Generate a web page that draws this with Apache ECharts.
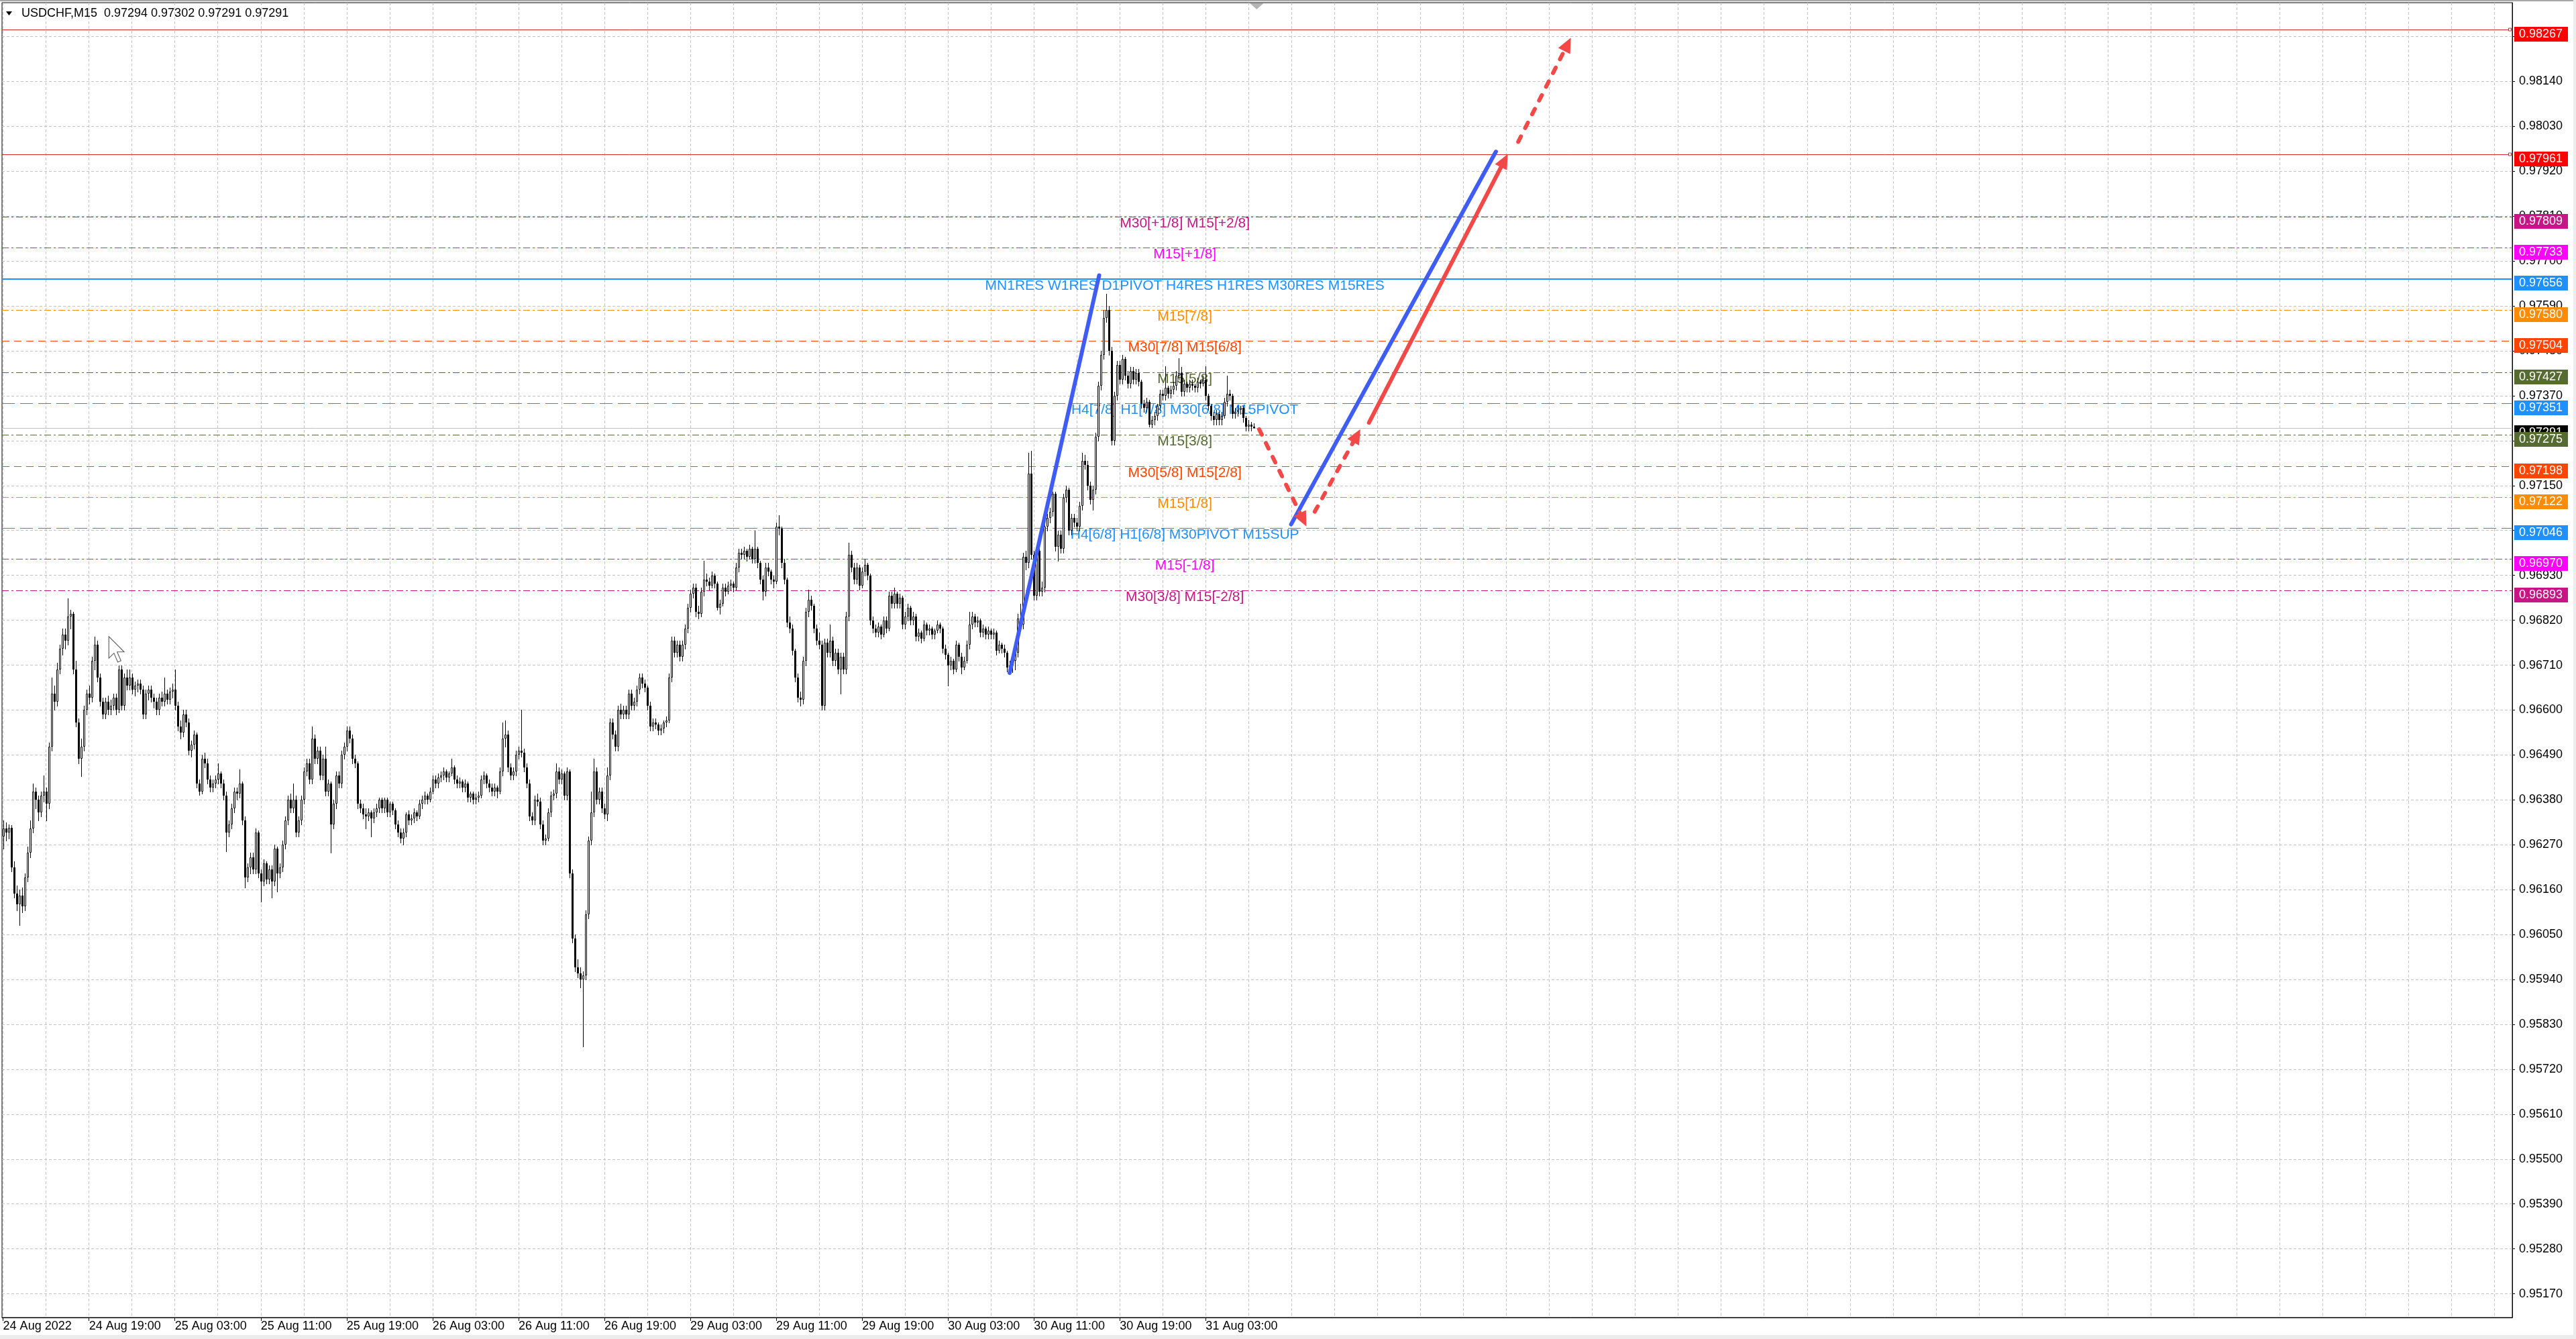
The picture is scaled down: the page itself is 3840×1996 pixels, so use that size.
<!DOCTYPE html>
<html><head><meta charset="utf-8">
<script src="https://cdn.jsdelivr.net/npm/echarts@6/dist/echarts.min.js"></script>
<style>html,body{margin:0;padding:0;background:#fff;overflow:hidden}#c{width:3840px;height:1996px}</style>
</head><body><div id="c"></div>
<script>
// ---------- DATA ----------
// Each row: [open, high, low, close] for one M15 bar of USDCHF
const bars_24Aug = [
[0.96290,0.96330,0.96260,0.96310],[0.96310,0.96325,0.96280,0.96300],[0.96300,0.96320,0.96285,0.96312],[0.96312,0.96318,0.96205,0.96215],
[0.96215,0.96230,0.96140,0.96150],[0.96150,0.96170,0.96110,0.96125],[0.96125,0.96160,0.96073,0.96145],[0.96145,0.96165,0.96105,0.96120],
[0.96120,0.96200,0.96110,0.96190],[0.96190,0.96265,0.96180,0.96250],[0.96250,0.96330,0.96240,0.96310],[0.96310,0.96420,0.96300,0.96400],
[0.96400,0.96410,0.96360,0.96380],[0.96380,0.96390,0.96330,0.96350],[0.96350,0.96400,0.96340,0.96390],[0.96390,0.96440,0.96375,0.96400],
[0.96400,0.96410,0.96330,0.96370],[0.96370,0.96520,0.96360,0.96510],[0.96510,0.96680,0.96500,0.96640],[0.96640,0.96660,0.96600,0.96620],
[0.96620,0.96715,0.96610,0.96700],[0.96700,0.96760,0.96690,0.96750],[0.96750,0.96800,0.96735,0.96785],[0.96785,0.96800,0.96750,0.96770],
[0.96770,0.96873,0.96760,0.96830],[0.96830,0.96845,0.96800,0.96835],[0.96835,0.96840,0.96690,0.96700],[0.96700,0.96720,0.96560,0.96570],
[0.96570,0.96580,0.96470,0.96480],[0.96480,0.96530,0.96438,0.96510],[0.96510,0.96610,0.96500,0.96600],[0.96600,0.96650,0.96590,0.96640],
[0.96640,0.96660,0.96615,0.96630],[0.96630,0.96730,0.96620,0.96720],[0.96720,0.96780,0.96700,0.96760],[0.96760,0.96770,0.96670,0.96680],
[0.96680,0.96690,0.96610,0.96620],[0.96620,0.96630,0.96580,0.96590],[0.96590,0.96630,0.96580,0.96620],[0.96620,0.96635,0.96590,0.96600],
[0.96600,0.96625,0.96590,0.96610],[0.96610,0.96640,0.96600,0.96630],[0.96630,0.96640,0.96590,0.96600],[0.96600,0.96710,0.96595,0.96700],
[0.96700,0.96710,0.96600,0.96610],[0.96610,0.96690,0.96600,0.96680],[0.96680,0.96700,0.96650,0.96660],[0.96660,0.96700,0.96650,0.96680],
[0.96680,0.96690,0.96640,0.96650],[0.96650,0.96670,0.96635,0.96660],[0.96660,0.96675,0.96645,0.96665],[0.96665,0.96675,0.96640,0.96650]
];
const bars_25Aug = [
[0.96650,0.96660,0.96580,0.96590],[0.96590,0.96650,0.96580,0.96640],[0.96640,0.96660,0.96625,0.96650],[0.96650,0.96660,0.96620,0.96630],
[0.96630,0.96640,0.96605,0.96620],[0.96620,0.96630,0.96590,0.96600],[0.96600,0.96640,0.96590,0.96630],[0.96630,0.96645,0.96610,0.96620],
[0.96620,0.96680,0.96610,0.96640],[0.96640,0.96650,0.96615,0.96625],[0.96625,0.96655,0.96615,0.96645],[0.96645,0.96665,0.96630,0.96650],
[0.96650,0.96700,0.96600,0.96610],[0.96610,0.96620,0.96550,0.96560],[0.96560,0.96575,0.96530,0.96545],[0.96545,0.96600,0.96535,0.96590],
[0.96590,0.96600,0.96560,0.96570],[0.96570,0.96580,0.96490,0.96500],[0.96500,0.96525,0.96485,0.96515],[0.96515,0.96550,0.96505,0.96540],
[0.96540,0.96545,0.96410,0.96420],[0.96420,0.96430,0.96392,0.96400],[0.96400,0.96490,0.96395,0.96480],[0.96480,0.96495,0.96460,0.96470],
[0.96470,0.96480,0.96420,0.96430],[0.96430,0.96440,0.96400,0.96410],[0.96410,0.96430,0.96400,0.96420],[0.96420,0.96440,0.96410,0.96430],
[0.96430,0.96470,0.96420,0.96445],[0.96445,0.96450,0.96410,0.96420],[0.96420,0.96430,0.96380,0.96390],[0.96390,0.96400,0.96254,0.96300],
[0.96300,0.96330,0.96290,0.96320],[0.96320,0.96370,0.96310,0.96360],[0.96360,0.96410,0.96350,0.96400],[0.96400,0.96410,0.96380,0.96395],
[0.96395,0.96455,0.96385,0.96420],[0.96420,0.96425,0.96320,0.96330],[0.96330,0.96340,0.96165,0.96190],[0.96190,0.96225,0.96180,0.96215],
[0.96215,0.96250,0.96200,0.96240],[0.96240,0.96250,0.96200,0.96210],[0.96210,0.96310,0.96200,0.96300],[0.96300,0.96305,0.96190,0.96200],
[0.96200,0.96210,0.96130,0.96180],[0.96180,0.96235,0.96170,0.96225],[0.96225,0.96230,0.96175,0.96185],[0.96185,0.96220,0.96175,0.96210],
[0.96210,0.96220,0.96140,0.96180],[0.96180,0.96270,0.96170,0.96260],[0.96260,0.96265,0.96155,0.96200],[0.96200,0.96225,0.96190,0.96215],
[0.96215,0.96280,0.96205,0.96270],[0.96270,0.96340,0.96260,0.96330],[0.96330,0.96390,0.96320,0.96380],[0.96380,0.96395,0.96350,0.96360],
[0.96360,0.96420,0.96350,0.96380],[0.96380,0.96390,0.96290,0.96300],[0.96300,0.96340,0.96290,0.96330],[0.96330,0.96390,0.96320,0.96380],
[0.96380,0.96460,0.96370,0.96450],[0.96450,0.96480,0.96440,0.96470],[0.96470,0.96480,0.96420,0.96430],[0.96430,0.96560,0.96420,0.96530],
[0.96530,0.96540,0.96470,0.96480],[0.96480,0.96510,0.96470,0.96500],[0.96500,0.96510,0.96430,0.96440],[0.96440,0.96490,0.96430,0.96480],
[0.96480,0.96510,0.96390,0.96400],[0.96400,0.96430,0.96390,0.96420],[0.96420,0.96425,0.96250,0.96320],[0.96320,0.96380,0.96310,0.96370],
[0.96370,0.96450,0.96360,0.96440],[0.96440,0.96450,0.96410,0.96420],[0.96420,0.96500,0.96410,0.96490],[0.96490,0.96520,0.96480,0.96510],
[0.96510,0.96560,0.96500,0.96550],[0.96550,0.96560,0.96520,0.96530],[0.96530,0.96540,0.96470,0.96480],[0.96480,0.96490,0.96460,0.96470],
[0.96470,0.96475,0.96360,0.96370],[0.96370,0.96380,0.96350,0.96360],[0.96360,0.96370,0.96335,0.96345],[0.96345,0.96360,0.96310,0.96340],
[0.96340,0.96360,0.96330,0.96350],[0.96350,0.96355,0.96290,0.96335],[0.96335,0.96360,0.96325,0.96350],[0.96350,0.96370,0.96340,0.96360],
[0.96360,0.96385,0.96350,0.96380],[0.96380,0.96385,0.96350,0.96360],[0.96360,0.96385,0.96350,0.96380],[0.96380,0.96385,0.96340,0.96350],
[0.96350,0.96375,0.96340,0.96370],[0.96370,0.96375,0.96345,0.96355],[0.96355,0.96360,0.96310,0.96320],[0.96320,0.96330,0.96290,0.96300]
];
const bars_26Aug = [
[0.96300,0.96310,0.96275,0.96285],[0.96285,0.96310,0.96270,0.96300],[0.96300,0.96350,0.96290,0.96345],[0.96345,0.96355,0.96320,0.96330],
[0.96330,0.96345,0.96320,0.96335],[0.96335,0.96360,0.96325,0.96350],[0.96350,0.96355,0.96330,0.96340],[0.96340,0.96380,0.96335,0.96370],
[0.96370,0.96390,0.96360,0.96380],[0.96380,0.96400,0.96370,0.96390],[0.96390,0.96395,0.96370,0.96380],[0.96380,0.96410,0.96375,0.96400],
[0.96400,0.96440,0.96395,0.96430],[0.96430,0.96440,0.96410,0.96420],[0.96420,0.96445,0.96410,0.96435],[0.96435,0.96450,0.96425,0.96440],
[0.96440,0.96460,0.96430,0.96450],[0.96450,0.96455,0.96425,0.96435],[0.96435,0.96450,0.96425,0.96445],[0.96445,0.96480,0.96440,0.96460],
[0.96460,0.96465,0.96420,0.96430],[0.96430,0.96440,0.96410,0.96420],[0.96420,0.96435,0.96410,0.96425],[0.96425,0.96430,0.96400,0.96410],
[0.96410,0.96430,0.96400,0.96420],[0.96420,0.96425,0.96375,0.96385],[0.96385,0.96400,0.96375,0.96395],[0.96395,0.96400,0.96370,0.96380],
[0.96380,0.96395,0.96370,0.96385],[0.96385,0.96400,0.96375,0.96390],[0.96390,0.96440,0.96385,0.96430],[0.96430,0.96450,0.96420,0.96440],
[0.96440,0.96445,0.96410,0.96420],[0.96420,0.96430,0.96400,0.96410],[0.96410,0.96420,0.96390,0.96400],[0.96400,0.96420,0.96390,0.96410],
[0.96410,0.96415,0.96385,0.96400],[0.96400,0.96460,0.96395,0.96450],[0.96450,0.96570,0.96440,0.96530],[0.96530,0.96575,0.96510,0.96540],
[0.96540,0.96550,0.96450,0.96460],[0.96460,0.96470,0.96430,0.96440],[0.96440,0.96460,0.96430,0.96450],[0.96450,0.96500,0.96440,0.96490],
[0.96490,0.96510,0.96480,0.96500],[0.96500,0.96600,0.96485,0.96495],[0.96495,0.96505,0.96450,0.96460],[0.96460,0.96470,0.96410,0.96420],
[0.96420,0.96430,0.96330,0.96340],[0.96340,0.96350,0.96320,0.96330],[0.96330,0.96390,0.96320,0.96380],[0.96380,0.96395,0.96365,0.96375],
[0.96375,0.96385,0.96310,0.96320],[0.96320,0.96330,0.96270,0.96280],[0.96280,0.96295,0.96270,0.96285],[0.96285,0.96360,0.96280,0.96350],
[0.96350,0.96400,0.96340,0.96390],[0.96390,0.96405,0.96380,0.96395],[0.96395,0.96470,0.96385,0.96450],[0.96450,0.96460,0.96420,0.96430],
[0.96430,0.96455,0.96420,0.96445],[0.96445,0.96450,0.96380,0.96390],[0.96390,0.96460,0.96380,0.96450],[0.96450,0.96455,0.96190,0.96200],
[0.96200,0.96210,0.96030,0.96040],[0.96040,0.96050,0.95960,0.95970],[0.95970,0.95990,0.95945,0.95955],[0.95955,0.95970,0.95920,0.95940],
[0.95940,0.95960,0.95775,0.95950],[0.95950,0.96110,0.95940,0.96100],[0.96100,0.96290,0.96090,0.96280],[0.96280,0.96400,0.96270,0.96350],
[0.96350,0.96480,0.96340,0.96450],[0.96450,0.96460,0.96370,0.96380],[0.96380,0.96410,0.96370,0.96400],[0.96400,0.96410,0.96350,0.96360],
[0.96360,0.96370,0.96335,0.96345],[0.96345,0.96460,0.96330,0.96440],[0.96440,0.96580,0.96430,0.96570],[0.96570,0.96580,0.96530,0.96540],
[0.96540,0.96550,0.96500,0.96510],[0.96510,0.96610,0.96500,0.96600],[0.96600,0.96615,0.96580,0.96590],[0.96590,0.96610,0.96580,0.96600],
[0.96600,0.96610,0.96580,0.96590],[0.96590,0.96650,0.96580,0.96640],[0.96640,0.96650,0.96600,0.96610],[0.96610,0.96630,0.96600,0.96620],
[0.96620,0.96660,0.96610,0.96650],[0.96650,0.96690,0.96640,0.96680],[0.96680,0.96690,0.96655,0.96665],[0.96665,0.96675,0.96645,0.96655],
[0.96655,0.96660,0.96600,0.96610],[0.96610,0.96620,0.96550,0.96560],[0.96560,0.96580,0.96550,0.96570],[0.96570,0.96580,0.96555,0.96565]
];
const bars_29Aug = [
[0.96565,0.96570,0.96540,0.96550],[0.96550,0.96565,0.96540,0.96555],[0.96555,0.96575,0.96545,0.96570],[0.96570,0.96585,0.96560,0.96575],
[0.96575,0.96690,0.96570,0.96680],[0.96680,0.96780,0.96670,0.96770],[0.96770,0.96780,0.96730,0.96740],[0.96740,0.96770,0.96730,0.96760],
[0.96760,0.96770,0.96720,0.96730],[0.96730,0.96770,0.96720,0.96760],[0.96760,0.96810,0.96750,0.96800],[0.96800,0.96860,0.96790,0.96850],
[0.96850,0.96895,0.96840,0.96885],[0.96885,0.96910,0.96875,0.96900],[0.96900,0.96910,0.96830,0.96840],[0.96840,0.96855,0.96825,0.96835],
[0.96835,0.96900,0.96830,0.96890],[0.96890,0.96965,0.96880,0.96920],[0.96920,0.96935,0.96905,0.96915],[0.96915,0.96925,0.96895,0.96905],
[0.96905,0.96940,0.96900,0.96930],[0.96930,0.96935,0.96900,0.96910],[0.96910,0.96915,0.96845,0.96850],[0.96850,0.96870,0.96835,0.96860],
[0.96860,0.96910,0.96855,0.96900],[0.96900,0.96910,0.96880,0.96890],[0.96890,0.96915,0.96885,0.96905],[0.96905,0.96920,0.96895,0.96910],
[0.96910,0.96915,0.96890,0.96900],[0.96900,0.96960,0.96895,0.96950],[0.96950,0.96995,0.96940,0.96985],[0.96985,0.96995,0.96970,0.96980],
[0.96980,0.97000,0.96970,0.96990],[0.96990,0.96995,0.96965,0.96975],[0.96975,0.97005,0.96970,0.96995],[0.96995,0.97000,0.96960,0.96970],
[0.96970,0.97040,0.96960,0.96995],[0.96995,0.97000,0.96950,0.96960],[0.96960,0.96965,0.96910,0.96920],[0.96920,0.96930,0.96870,0.96890],
[0.96890,0.96960,0.96880,0.96950],[0.96950,0.96960,0.96930,0.96940],[0.96940,0.96945,0.96910,0.96920],[0.96920,0.96930,0.96900,0.96915],
[0.96915,0.97060,0.96910,0.97050],[0.97050,0.97078,0.97030,0.97045],[0.97045,0.97050,0.96950,0.96960],[0.96960,0.96970,0.96910,0.96920],
[0.96920,0.96925,0.96805,0.96815],[0.96815,0.96830,0.96790,0.96800],[0.96800,0.96810,0.96735,0.96745],[0.96745,0.96750,0.96670,0.96680],
[0.96680,0.96690,0.96620,0.96630],[0.96630,0.96645,0.96610,0.96625],[0.96625,0.96730,0.96615,0.96720],[0.96720,0.96850,0.96710,0.96840],
[0.96840,0.96895,0.96830,0.96870],[0.96870,0.96880,0.96845,0.96855],[0.96855,0.96860,0.96790,0.96800],[0.96800,0.96810,0.96760,0.96770],
[0.96770,0.96790,0.96750,0.96760],[0.96760,0.96770,0.96600,0.96610],[0.96610,0.96775,0.96600,0.96765],[0.96765,0.96775,0.96730,0.96740],
[0.96740,0.96810,0.96730,0.96770],[0.96770,0.96780,0.96710,0.96720],[0.96720,0.96750,0.96710,0.96740],[0.96740,0.96750,0.96690,0.96700],
[0.96700,0.96740,0.96640,0.96730],[0.96730,0.96740,0.96690,0.96700],[0.96700,0.96840,0.96690,0.96830],[0.96830,0.97010,0.96820,0.96980],
[0.96980,0.96990,0.96940,0.96950],[0.96950,0.96960,0.96910,0.96920],[0.96920,0.96960,0.96910,0.96950],[0.96950,0.96955,0.96895,0.96905],
[0.96905,0.96950,0.96900,0.96940],[0.96940,0.96970,0.96930,0.96955],[0.96955,0.96960,0.96920,0.96930],[0.96930,0.96935,0.96810,0.96820],
[0.96820,0.96830,0.96790,0.96800],[0.96800,0.96810,0.96780,0.96790],[0.96790,0.96815,0.96780,0.96805],[0.96805,0.96810,0.96775,0.96785],
[0.96785,0.96830,0.96780,0.96820],[0.96820,0.96830,0.96790,0.96800],[0.96800,0.96890,0.96795,0.96880],[0.96880,0.96890,0.96850,0.96860],
[0.96860,0.96900,0.96850,0.96885],[0.96885,0.96890,0.96850,0.96860],[0.96860,0.96885,0.96850,0.96875],[0.96875,0.96880,0.96800,0.96810],
[0.96810,0.96840,0.96800,0.96830],[0.96830,0.96860,0.96820,0.96850],[0.96850,0.96855,0.96810,0.96820],[0.96820,0.96840,0.96810,0.96830]
];
const bars_30Aug = [
[0.96830,0.96835,0.96770,0.96780],[0.96780,0.96800,0.96770,0.96790],[0.96790,0.96795,0.96765,0.96775],[0.96775,0.96820,0.96770,0.96810],
[0.96810,0.96815,0.96785,0.96795],[0.96795,0.96810,0.96785,0.96800],[0.96800,0.96805,0.96775,0.96785],[0.96785,0.96800,0.96775,0.96795],
[0.96795,0.96820,0.96790,0.96810],[0.96810,0.96815,0.96790,0.96800],[0.96800,0.96805,0.96740,0.96750],[0.96750,0.96760,0.96725,0.96735],
[0.96735,0.96740,0.96660,0.96710],[0.96710,0.96730,0.96700,0.96720],[0.96720,0.96725,0.96690,0.96700],[0.96700,0.96770,0.96695,0.96760],
[0.96760,0.96765,0.96720,0.96730],[0.96730,0.96740,0.96690,0.96705],[0.96705,0.96730,0.96700,0.96720],[0.96720,0.96770,0.96715,0.96760],
[0.96760,0.96840,0.96750,0.96810],[0.96810,0.96840,0.96800,0.96830],[0.96830,0.96835,0.96805,0.96815],[0.96815,0.96830,0.96805,0.96820],
[0.96820,0.96825,0.96780,0.96790],[0.96790,0.96810,0.96780,0.96800],[0.96800,0.96805,0.96775,0.96785],[0.96785,0.96805,0.96775,0.96795],
[0.96795,0.96800,0.96775,0.96785],[0.96785,0.96800,0.96775,0.96790],[0.96790,0.96795,0.96735,0.96745],[0.96745,0.96770,0.96740,0.96760],
[0.96760,0.96765,0.96740,0.96750],[0.96750,0.96760,0.96730,0.96740],[0.96740,0.96745,0.96695,0.96705],[0.96705,0.96720,0.96690,0.96710],
[0.96710,0.96730,0.96692,0.96720],[0.96720,0.96750,0.96700,0.96740],[0.96740,0.96835,0.96730,0.96825],[0.96825,0.96860,0.96800,0.96810],
[0.96810,0.96985,0.96800,0.96975],[0.96975,0.96990,0.96945,0.96960],[0.96960,0.97230,0.96950,0.97180],[0.97180,0.97235,0.96970,0.96980],
[0.96980,0.96990,0.96870,0.96880],[0.96880,0.97000,0.96870,0.96990],[0.96990,0.97000,0.96880,0.96890],[0.96890,0.96915,0.96880,0.96900],
[0.96900,0.97060,0.96890,0.97050],[0.97050,0.97080,0.97040,0.97070],[0.97070,0.97095,0.97060,0.97085],[0.97085,0.97135,0.97075,0.97130],
[0.97130,0.97135,0.96990,0.97000],[0.97000,0.97040,0.96965,0.97030],[0.97030,0.97040,0.96985,0.96995],[0.96995,0.97130,0.96985,0.97120],
[0.97120,0.97150,0.97110,0.97140],[0.97140,0.97145,0.97030,0.97040],[0.97040,0.97080,0.97030,0.97070],[0.97070,0.97080,0.97050,0.97060],
[0.97060,0.97070,0.97040,0.97050],[0.97050,0.97110,0.97040,0.97100],[0.97100,0.97230,0.97090,0.97210],[0.97210,0.97225,0.97190,0.97200],
[0.97200,0.97210,0.97140,0.97150],[0.97150,0.97160,0.97105,0.97115],[0.97115,0.97150,0.97090,0.97140],[0.97140,0.97280,0.97130,0.97270],
[0.97270,0.97405,0.97260,0.97395],[0.97395,0.97480,0.97385,0.97470],[0.97470,0.97580,0.97460,0.97560],[0.97560,0.97620,0.97550,0.97580],
[0.97580,0.97590,0.97470,0.97480],[0.97480,0.97490,0.97250,0.97260],[0.97260,0.97380,0.97250,0.97370],[0.97370,0.97455,0.97360,0.97445],
[0.97445,0.97455,0.97400,0.97410],[0.97410,0.97470,0.97400,0.97460],[0.97460,0.97465,0.97410,0.97420],[0.97420,0.97430,0.97390,0.97400],
[0.97400,0.97440,0.97390,0.97430],[0.97430,0.97440,0.97400,0.97410],[0.97410,0.97435,0.97400,0.97425],[0.97425,0.97435,0.97395,0.97405],
[0.97405,0.97410,0.97340,0.97350],[0.97350,0.97360,0.97330,0.97340],[0.97340,0.97365,0.97330,0.97355],[0.97355,0.97360,0.97295,0.97300],
[0.97300,0.97320,0.97292,0.97310],[0.97310,0.97330,0.97300,0.97320],[0.97320,0.97350,0.97310,0.97345],[0.97345,0.97385,0.97335,0.97375],
[0.97375,0.97385,0.97360,0.97370],[0.97370,0.97443,0.97360,0.97390],[0.97390,0.97395,0.97365,0.97375],[0.97375,0.97395,0.97365,0.97385]
];
const bars_31Aug = [
[0.97385,0.97405,0.97375,0.97395],[0.97395,0.97430,0.97385,0.97420],[0.97420,0.97462,0.97410,0.97425],[0.97425,0.97440,0.97370,0.97380],
[0.97380,0.97410,0.97370,0.97400],[0.97400,0.97405,0.97380,0.97390],[0.97390,0.97410,0.97380,0.97400],[0.97400,0.97410,0.97385,0.97395],
[0.97395,0.97400,0.97380,0.97390],[0.97390,0.97415,0.97380,0.97405],[0.97405,0.97410,0.97390,0.97400],[0.97400,0.97420,0.97395,0.97410],
[0.97410,0.97443,0.97360,0.97370],[0.97370,0.97375,0.97335,0.97345],[0.97345,0.97350,0.97310,0.97320],[0.97320,0.97330,0.97300,0.97310],
[0.97310,0.97335,0.97300,0.97325],[0.97325,0.97330,0.97300,0.97310],[0.97310,0.97330,0.97300,0.97320],[0.97320,0.97365,0.97315,0.97355],
[0.97355,0.97420,0.97345,0.97375],[0.97375,0.97385,0.97360,0.97370],[0.97370,0.97375,0.97315,0.97325],[0.97325,0.97340,0.97315,0.97330],
[0.97330,0.97345,0.97320,0.97335],[0.97335,0.97345,0.97325,0.97340],[0.97340,0.97345,0.97305,0.97315],[0.97315,0.97320,0.97285,0.97295],
[0.97295,0.97310,0.97285,0.97300],[0.97300,0.97305,0.97285,0.97294],[0.97294,0.97302,0.97291,0.97291]
];

// time-axis labels (bar index of each label, counted from 24 Aug 11:00)
const xTickBars   = [0,32,64,96,128,160,192,224,256,288,320,352,384,416,448];
const xTickLabels = ['24 Aug 2022','24 Aug 19:00','25 Aug 03:00','25 Aug 11:00','25 Aug 19:00','26 Aug 03:00','26 Aug 11:00','26 Aug 19:00','29 Aug 03:00','29 Aug 11:00','29 Aug 19:00','30 Aug 03:00','30 Aug 11:00','30 Aug 19:00','31 Aug 03:00'];
// price-axis labels
const yTicks = [0.95170,0.95280,0.95390,0.95500,0.95610,0.95720,0.95830,0.95940,0.96050,0.96160,0.96270,0.96380,0.96490,0.96600,0.96710,0.96820,0.96930,0.97040,0.97150,0.97260,0.97370,0.97480,0.97590,0.97700,0.97810,0.97920,0.98030,0.98140,0.98250];

// horizontal levels
const levelPrices = [0.98267,0.97961,0.97809,0.97733,0.97656,0.97580,0.97504,0.97427,0.97351,0.97291,0.97275,0.97198,0.97122,0.97046,0.96970,0.96893];
const levelNames  = ['','','M30[+1/8] M15[+2/8]','M15[+1/8]','MN1RES W1RES D1PIVOT H4RES H1RES M30RES M15RES','M15[7/8]','M30[7/8] M15[6/8]','M15[5/8]','H4[7/8] H1[7/8] M30[6/8] M15PIVOT','','M15[3/8]','M30[5/8] M15[2/8]','M15[1/8]','H4[6/8] H1[6/8] M30PIVOT M15SUP','M15[-1/8]','M30[3/8] M15[-2/8]'];

// drawn trend lines / arrows: [startBar, startPrice, endBar, endPrice]
const trendBlue   = [[374.96,0.96691,408.3,0.97665],[479.8,0.97055,556.1,0.97968]];
const arrowSolid  = [[508.8,0.97304,560.5,0.97962]];
const arrowDashed = [[467.9,0.97288,485.5,0.97050],[488.6,0.97086,505.6,0.97288],[564.4,0.97992,584.0,0.98247]];

const headerText = 'USDCHF,M15  0.97294 0.97302 0.97291 0.97291';

// ---------- STYLE / LAYOUT ----------
const FONT = '"Liberation Sans", Arial, Helvetica, sans-serif';
const X_MIN = -0.4, X_MAX = 934.7;
const Y_MIN = 0.9511184, Y_MAX = 0.9833294;
const LABEL_BAR = 440.2;
const DASHDOT = [10,4,3,4], DASH = [11,7], LONGDASH = [19,8];
const MVR = '#c71585', MAG = '#ff00ff', DB = '#1e90ff', DO = '#ff8c00', OR = '#ff4500', DOG = '#556b2f';
const levelStyles = [
  {line:'#d42a2a', box:'#ff0000', dash:null, marker:true},
  {line:'#d42a2a', box:'#ff0000', dash:null, marker:true},
  {line:MVR, box:MVR, dash:DASHDOT},
  {line:MAG, box:MAG, dash:DASHDOT},
  {line:DB,  box:DB,  dash:null, w:2},
  {line:DO,  box:DO,  dash:DASHDOT},
  {line:OR,  box:OR,  dash:DASH},
  {line:DOG, box:DOG, dash:DASHDOT},
  {line:DB,  box:DB,  dash:LONGDASH},
  {line:'#c0c0c0', box:'#000000', dash:null},
  {line:DOG, box:DOG, dash:DASHDOT},
  {line:OR,  box:OR,  dash:DASH},
  {line:DO,  box:DO,  dash:DASHDOT},
  {line:DB,  box:DB,  dash:LONGDASH},
  {line:MAG, box:MAG, dash:DASHDOT},
  {line:MVR, box:MVR, dash:DASHDOT}
];
const BLUE = '#3f5cf4', RED = '#f24848';

// ---------- BUILD ----------
const allBars = [].concat(bars_24Aug, bars_25Aug, bars_26Aug, bars_29Aug, bars_30Aug, bars_31Aug);
const candleData = allBars.map((b, i) => [i, b[0], b[1], b[2], b[3]]);
const levelData = levelPrices.map((p, k) => [k, p]);
const xGridBars = [];
for (let b = 0; b <= X_MAX; b += 16) xGridBars.push(b);

const trendData = [];
const trendStyles = [];
trendBlue.forEach(t => { trendData.push(t); trendStyles.push({color:BLUE, arrow:false, dash:null}); });
arrowSolid.forEach(t => { trendData.push(t); trendStyles.push({color:RED, arrow:true, dash:null}); });
arrowDashed.forEach(t => { trendData.push(t); trendStyles.push({color:RED, arrow:true, dash:[9,14]}); });

function renderCandle(params, api) {
  const i = api.value(0), o = api.value(1), h = api.value(2), l = api.value(3), c = api.value(4);
  const pO = api.coord([i, o]), pC = api.coord([i, c]), pH = api.coord([i, h]), pL = api.coord([i, l]);
  const xc = Math.round(pO[0]);
  const top = Math.round(Math.min(pO[1], pC[1])), bot = Math.round(Math.max(pO[1], pC[1]));
  const ch = [{type:'line', shape:{x1:xc+0.5, y1:Math.round(pH[1]), x2:xc+0.5, y2:Math.round(pL[1])+1}, style:{stroke:'#000', lineWidth:1}}];
  if (bot - top <= 1) ch.push({type:'rect', shape:{x:xc-1, y:top, width:3, height:1}, style:{fill:'#000'}});
  else if (c >= o) ch.push({type:'rect', shape:{x:xc-0.5, y:top+0.5, width:2, height:bot-top-1}, style:{fill:'#fff', stroke:'#000', lineWidth:1}});
  else ch.push({type:'rect', shape:{x:xc-1, y:top, width:3, height:bot-top}, style:{fill:'#000'}});
  return {type:'group', children:ch};
}

function renderLevel(params, api) {
  const k = params.dataIndex;
  const p = api.value(1);
  const cs = params.coordSys;
  const st = levelStyles[k];
  const y = Math.round(api.coord([0, p])[1]) + ((st.w || 1) === 2 ? 0 : 0.5);
  const ch = [];
  ch.push({type:'line', shape:{x1:cs.x, y1:y, x2:cs.x+cs.width, y2:y}, style:{stroke:st.line, lineWidth:st.w||1, lineDash:st.dash}});
  if (st.marker) ch.push({type:'rect', shape:{x:cs.x+cs.width-5.5, y:y-2.5, width:4, height:4}, style:{fill:'#fff', stroke:st.line, lineWidth:1}});
  if (levelNames[k]) {
    const lx = api.coord([LABEL_BAR, p])[0];
    ch.push({type:'text', x:lx, y:y+10, style:{text:levelNames[k], fill:st.line, font:'21px ' + FONT, align:'center', verticalAlign:'middle'}});
  }
  const bx = cs.x + cs.width + 3;
  ch.push({type:'rect', shape:{x:bx, y:Math.round(y)-5, width:80, height:22}, style:{fill:st.box}});
  ch.push({type:'text', x:bx+7, y:Math.round(y)+6, style:{text:p.toFixed(5), fill:'#fff', font:'18px ' + FONT, align:'left', verticalAlign:'middle'}});
  return {type:'group', children:ch};
}

function renderTrend(params, api) {
  const k = params.dataIndex;
  const st = trendStyles[k];
  const a = api.coord([api.value(0), api.value(1)]);
  const b = api.coord([api.value(2), api.value(3)]);
  const ch = [];
  let end = b;
  if (st.arrow) {
    const dx = b[0]-a[0], dy = b[1]-a[1], L = Math.hypot(dx, dy), ux = dx/L, uy = dy/L;
    const al = 22, aw = 10;
    const bx = b[0]-ux*al, by = b[1]-uy*al;
    end = [bx + ux*3, by + uy*3];
    ch.push({type:'polygon', shape:{points:[[b[0],b[1]],[bx-uy*aw, by+ux*aw],[bx+uy*aw, by-ux*aw]]}, style:{fill:st.color}});
  }
  ch.unshift({type:'line', shape:{x1:a[0], y1:a[1], x2:end[0], y2:end[1]}, style:{stroke:st.color, lineWidth:6, lineCap:'round', lineDash:st.dash}});
  return {type:'group', children:ch};
}

const chart = echarts.init(document.getElementById('c'), null, {renderer:'canvas'});
chart.setOption({
  animation:false,
  backgroundColor:'#ffffff',
  grid:{left:3, top:4, right:95, bottom:32, show:true, borderColor:'#000', borderWidth:1, backgroundColor:'#fff', containLabel:false, outerBoundsMode:'none'},
  xAxis:[
    {type:'value', min:X_MIN, max:X_MAX, position:'bottom',
     axisLine:{show:true, onZero:false, lineStyle:{color:'#000', width:1}},
     axisTick:{show:true, length:5, customValues:xTickBars, lineStyle:{color:'#000'}},
     axisLabel:{show:true, customValues:xTickBars, formatter:v => xTickLabels[xTickBars.indexOf(Math.round(v))] || '', align:'left', color:'#000', fontSize:18, fontFamily:FONT, margin:4},
     splitLine:{show:false}},
    {type:'value', min:X_MIN, max:X_MAX, position:'top',
     axisLine:{show:false}, axisTick:{show:false, customValues:xGridBars}, axisLabel:{show:false},
     splitLine:{show:true, lineStyle:{color:'#c4c4c4', width:1, type:[4,3]}}}
  ],
  yAxis:[
    {type:'value', min:Y_MIN, max:Y_MAX, position:'right', scale:true,
     axisLine:{show:true, onZero:false, lineStyle:{color:'#000', width:1}},
     axisTick:{show:true, length:4, customValues:yTicks, lineStyle:{color:'#000'}},
     axisLabel:{show:true, customValues:yTicks, formatter:v => v.toFixed(5), color:'#000', fontSize:18, fontFamily:FONT, margin:10},
     splitLine:{show:true, lineStyle:{color:'#c4c4c4', width:1, type:[4,3]}}}
  ],
  series:[
    {type:'custom', name:'levels', xAxisIndex:0, yAxisIndex:0, data:levelData, renderItem:renderLevel, clip:false, z:1, silent:true, progressive:0},
    {type:'custom', name:'USDCHF', xAxisIndex:0, yAxisIndex:0, data:candleData, renderItem:renderCandle, clip:true, z:3, silent:true, progressive:0,
     encode:{x:0, y:[1,2,3,4]}},
    {type:'custom', name:'trends', xAxisIndex:0, yAxisIndex:0, data:trendData, renderItem:renderTrend, clip:false, z:4, silent:true, progressive:0,
     encode:{x:[0,2], y:[1,3]}}
  ]
});

// window frame, header, chart-shift marker and the mouse pointer seen in the screenshot
const sx = chart.convertToPixel({xAxisIndex:0}, allBars.length);
const cur = [[0,0],[0,17],[4,13],[7,20],[9.5,19],[6.5,12],[12,12]];
const curPx = chart.convertToPixel({xAxisIndex:0, yAxisIndex:0}, [39.4, 0.96780]);
chart.setOption({graphic:[
  {type:'rect', left:0, top:0, shape:{width:3840, height:2}, style:{fill:'#a8a8a8'}, z:100},
  {type:'rect', left:0, top:1990, shape:{width:3840, height:6}, style:{fill:'#ececec'}, z:100},
  {type:'rect', left:3836, top:0, shape:{width:4, height:1996}, style:{fill:'#ececec'}, z:100},
  {type:'polygon', shape:{points:[[9,17],[18,17],[13.5,23]]}, style:{fill:'#000'}, z:100},
  {type:'text', x:32, y:20, style:{text:headerText, font:'18px ' + FONT, fill:'#000', verticalAlign:'middle'}, z:100},
  {type:'polygon', shape:{points:[[sx-10,5],[sx+10,5],[sx,14]]}, style:{fill:'#b4b4b4'}, z:100},
  {type:'polygon', x:curPx[0], y:curPx[1], scaleX:1.9, scaleY:1.9, shape:{points:cur}, style:{fill:'#ffffff', stroke:'#606060', lineWidth:0.6}, z:100}
]});
</script>
</body></html>
